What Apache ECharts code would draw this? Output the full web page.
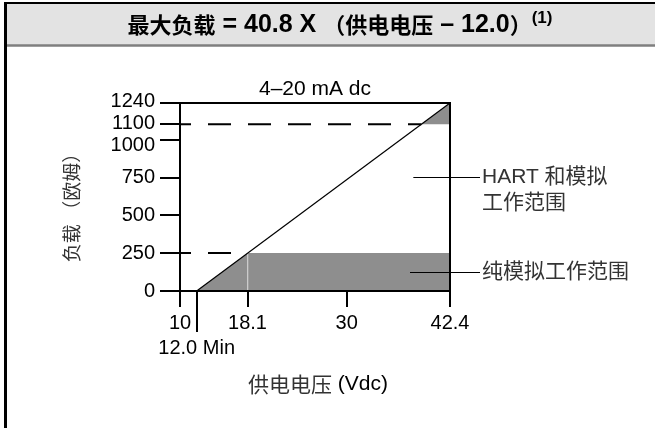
<!DOCTYPE html>
<html>
<head>
<meta charset="utf-8">
<script src="https://cdn.jsdelivr.net/npm/echarts@6/dist/echarts.min.js"></script>
<style>
  html, body { margin: 0; padding: 0; background: #fff; }
  #chart { width: 655px; height: 428px; }
</style>
</head>
<body>
<div id="chart"></div>
<script>
// Load limit vs. supply voltage: max load = 40.8 × (V − 12.0)

// axis extents
const xMin = 10;
const xMax = 42.4;
const yMin = 0;
const yMax = 1240;

// tick values and their labels
const xTicks = [10, 18.1, 30, 42.4];
const xTickLabels = ['10', '18.1', '30', '42.4'];
const xMinTick = [12.0];
const xMinTickLabel = '12.0 Min';
const yTicks = [0, 250, 500, 750, 1000, 1240];
const yHartTick = [1100];

// load line (ohms) from 12.0 V to 42.4 V
const loadLine = [[12.0, 0], [42.4, 1240]];

// shaded regions
const analogRamp = [[12.0, 0], [18.13, 250], [18.13, 0]];
const analogBand = [[18.13, 0], [18.13, 250], [42.4, 250], [42.4, 0]];
const analogSplit = [[18.13, 0], [18.13, 250]];
const hartCorner = [[38.96, 1100], [42.4, 1240], [42.4, 1100]];

// dashed reference levels
const level1100 = [[10, 1100], [38.96, 1100]];
const level250 = [[10, 250], [18.13, 250]];

// callouts: anchor point and text
const calloutAnchors = [[38.0, 750], [37.6, 125]];
const calloutTexts = ['HART 和模拟\n工作范围', '纯模拟工作范围'];

const LATIN = 'Liberation Sans, Arial, sans-serif';
const CJK = 'Noto Sans CJK SC, sans-serif';
const MIXED = 'Liberation Sans, Noto Sans CJK SC, sans-serif';
const SHADE = '#8e8e8e';

const chart = echarts.init(document.getElementById('chart'), null, { renderer: 'canvas' });

function polygonSeries(verts, fill) {
  return {
    type: 'custom',
    silent: true,
    z: 1,
    data: verts,
    renderItem(params, api) {
      if (params.dataIndex !== 0) return null;
      return {
        type: 'polygon',
        shape: { points: verts.map(p => api.coord(p)) },
        style: { fill: fill, stroke: null }
      };
    }
  };
}

function dashedLevel(data) {
  return {
    type: 'line',
    data: data,
    showSymbol: false,
    silent: true,
    z: 3,
    lineStyle: { color: '#000', width: 2, type: [23, 17], dashOffset: 12 }
  };
}

const axisLineStyle = { color: '#000', width: 2 };

// the top three load labels sit close together, so spread them apart a little
const yLabelRich = {
  top: { fontSize: 20, fontFamily: LATIN, color: '#000', padding: [0, 0, 4, 0] },
  hi: { fontSize: 20, fontFamily: LATIN, color: '#000', padding: [0, 0, 2, 0] },
  lo: { fontSize: 20, fontFamily: LATIN, color: '#000', padding: [12, 0, 0, 0] }
};
function yLabel(v) {
  if (v === 1240) return '{top|' + v + '}';
  if (v === 1100) return '{hi|' + v + '}';
  if (v === 1000) return '{lo|' + v + '}';
  return String(v);
}

function yAxisDef(ticks, showLine) {
  return {
    type: 'value', min: yMin, max: yMax, position: 'left', offset: 0, z: 10,
    axisLine: { show: showLine, onZero: false, lineStyle: axisLineStyle },
    axisTick: { show: true, customValues: ticks, length: 20, lineStyle: axisLineStyle },
    axisLabel: {
      customValues: ticks, margin: 25, fontSize: 20, color: '#000', fontFamily: LATIN,
      showMinLabel: true, showMaxLabel: true,
      formatter: yLabel, rich: yLabelRich
    },
    splitLine: { show: false }
  };
}

const option = {
  animation: false,
  backgroundColor: '#fff',
  grid: {
    left: 180, right: 205, top: 103, bottom: 137,
    containLabel: false,
    outerBoundsMode: 'none',
    show: true,
    borderColor: '#000',
    borderWidth: 2,
    backgroundColor: 'transparent',
    z: 10
  },
  xAxis: [
    {
      type: 'value', min: xMin, max: xMax, position: 'bottom', z: 10,
      axisLine: { show: true, onZero: false, lineStyle: axisLineStyle },
      axisTick: { show: true, customValues: xTicks, length: 16, lineStyle: axisLineStyle },
      axisLabel: {
        customValues: xTicks, margin: 22, fontSize: 20, color: '#000', fontFamily: LATIN,
        showMinLabel: true, showMaxLabel: true,
        formatter: v => xTickLabels[xTicks.indexOf(v)] ?? String(v)
      },
      splitLine: { show: false }
    },
    {
      type: 'value', min: xMin, max: xMax, position: 'bottom', z: 10,
      axisLine: { show: false },
      axisTick: { show: true, customValues: xMinTick, length: 41, lineStyle: axisLineStyle },
      axisLabel: {
        customValues: xMinTick, margin: 47, fontSize: 20, color: '#000', fontFamily: LATIN,
        formatter: () => xMinTickLabel
      },
      splitLine: { show: false }
    }
  ],
  yAxis: [
    yAxisDef(yTicks, true),
    yAxisDef(yHartTick, false)
  ],
  graphic: [
    // title bar
    { type: 'rect', z: -1, shape: { x: 5, y: 3, width: 660, height: 42 }, style: { fill: '#e3e3e3' } },
    { type: 'line', z: 1, shape: { x1: 4, y1: 3, x2: 660, y2: 3 }, style: { stroke: '#000', lineWidth: 2 } },
    { type: 'line', z: 1, shape: { x1: 5, y1: 45.5, x2: 660, y2: 45.5 }, style: { stroke: '#7f7f7f', lineWidth: 2.5 } },
    { type: 'line', z: 1, shape: { x1: 5.5, y1: 2, x2: 5.5, y2: 430 }, style: { stroke: '#000', lineWidth: 3 } },
    {
      type: 'text', z: 2, x: 340, y: 25,
      style: {
        text: '{c|最大负载}{b| = 40.8 X }{c|（供电电压}{b| – 12.0}{c|）}{s|(1)}',
        align: 'center', verticalAlign: 'middle',
        rich: {
          c: { fontSize: 22, fontWeight: 'bold', fontFamily: CJK, fill: '#000', color: '#000' },
          b: { fontSize: 25, fontWeight: 'bold', fontFamily: LATIN, fill: '#000', color: '#000' },
          s: { fontSize: 17, fontWeight: 'bold', fontFamily: LATIN, fill: '#000', color: '#000', verticalAlign: 'top', padding: [0, 0, 14, 0] }
        }
      }
    },
    // loop current caption
    {
      type: 'text', x: 315, y: 89,
      style: { text: '4–20 mA dc', align: 'center', verticalAlign: 'middle', fontSize: 21, fontFamily: LATIN, fill: '#000' }
    },
    // axis names
    {
      type: 'text', x: 72, y: 203, rotation: Math.PI / 2,
      style: { text: '负载 （欧姆）', align: 'center', verticalAlign: 'middle', fontSize: 19, fontFamily: CJK, fill: '#333' }
    },
    {
      type: 'text', x: 318, y: 384,
      style: {
        text: '{c|供电电压}{b| (Vdc)}', align: 'center', verticalAlign: 'middle',
        rich: {
          c: { fontSize: 21, fontFamily: CJK, fill: '#333', color: '#333' },
          b: { fontSize: 21, fontFamily: LATIN, fill: '#000', color: '#000' }
        }
      }
    }
  ],
  series: [
    polygonSeries(analogRamp, SHADE),
    polygonSeries(analogBand, SHADE),
    polygonSeries(hartCorner, SHADE),
    {
      type: 'custom', silent: true, z: 2, data: analogSplit,
      renderItem(params, api) {
        if (params.dataIndex !== 0) return null;
        const a = api.coord(analogSplit[0]);
        const b = api.coord(analogSplit[1]);
        return { type: 'line', shape: { x1: a[0], y1: a[1], x2: b[0], y2: b[1] }, style: { stroke: '#d8d8d8', lineWidth: 1 } };
      }
    },
    dashedLevel(level1100),
    dashedLevel(level250),
    {
      type: 'line',
      data: loadLine,
      showSymbol: false,
      silent: true,
      z: 4,
      lineStyle: { color: '#000', width: 1.2 }
    },
    {
      type: 'custom', clip: false, silent: true, z: 12, data: calloutAnchors,
      renderItem(params, api) {
        const i = params.dataIndex;
        const start = api.coord([api.value(0), api.value(1)]);
        const endX = api.coord([xMax, api.value(1)])[0] + 30;
        const y = Math.round(start[1]) + 0.5;
        return {
          type: 'group',
          children: [
            { type: 'line', shape: { x1: start[0], y1: y, x2: endX, y2: y }, style: { stroke: '#000', lineWidth: 1 } },
            {
              type: 'text',
              style: {
                text: calloutTexts[i], x: endX + 2, y: y - 13,
                fontSize: 21, lineHeight: 26, fontFamily: MIXED, fill: '#333',
                align: 'left', verticalAlign: 'top'
              }
            }
          ]
        };
      }
    }
  ]
};

chart.setOption(option);
</script>
</body>
</html>
